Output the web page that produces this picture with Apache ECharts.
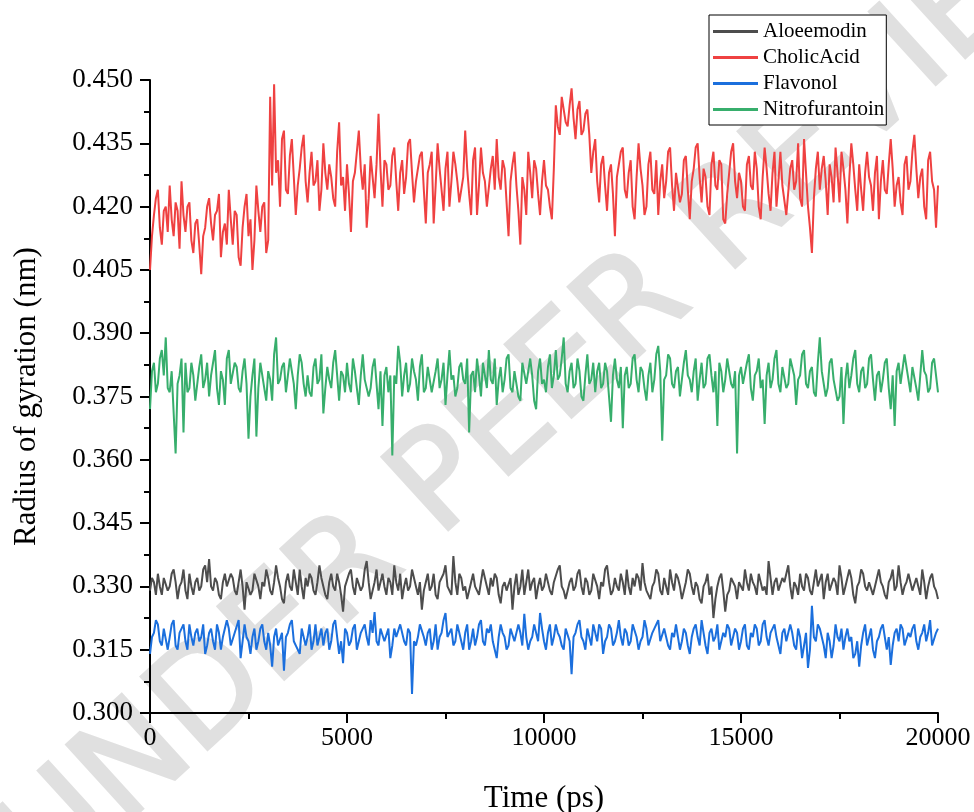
<!DOCTYPE html>
<html>
<head>
<meta charset="utf-8">
<script src="https://cdn.jsdelivr.net/npm/echarts@6/dist/echarts.min.js"></script>
<style>html,body{margin:0;padding:0;background:#fff}#c{width:974px;height:812px}</style>
</head>
<body>
<div id="c"></div>
<script>
// Sampling interval of the trajectories (ps); each row below = 1000 ps
const timeStep = 50;
const seriesNames = ['Aloeemodin', 'CholicAcid', 'Flavonol', 'Nitrofurantoin'];
const xTicks = ['0', '5000', '10000', '15000', '20000'];
const yTicks = ['0.300','0.315','0.330','0.345','0.360','0.375','0.390','0.405','0.420','0.435','0.450'];

const aloeemodin = [
.329,.332,.331,.328,.333,.330,.328,.332,.332,.329,.330,.333,.334,.331,.327,.330,.331,.334,.329,.327,
.333,.330,.328,.331,.332,.329,.330,.334,.335,.331,.3365,.330,.329,.332,.331,.328,.327,.331,.333,.330,
.330,.333,.332,.329,.328,.331,.334,.330,.3245,.331,.331,.328,.329,.333,.333,.330,.327,.331,.330,.334,
.332,.329,.328,.331,.335,.332,.330,.327,.326,.331,.333,.330,.329,.334,.331,.328,.334,.330,.327,.332,
.330,.333,.332,.329,.328,.331,.335,.332,.330,.328,.327,.331,.333,.330,.329,.333,.331,.328,.324,.330,
.330,.333,.334,.330,.328,.332,.332,.329,.330,.334,.336,.331,.327,.329,.331,.334,.329,.331,.333,.330,
.328,.332,.331,.328,.335,.331,.329,.333,.327,.330,.332,.329,.330,.334,.334,.330,.328,.331,.3245,.329,
.331,.333,.329,.330,.333,.328,.327,.331,.331,.333,.335,.330,.330,.328,.3372,.331,.328,.333,.332,.329,
.330,.327,.327,.331,.333,.330,.329,.328,.331,.334,.334,.330,.328,.332,.330,.333,.332,.328,.326,.330,
.331,.329,.329,.332,.3245,.330,.333,.328,.330,.334,.328,.331,.334,.329,.331,.332,.327,.330,.332,.329,
.330,.333,.333,.329,.328,.331,.331,.334,.335,.330,.329,.327,.327,.331,.332,.329,.330,.333,.334,.330,
.328,.332,.331,.328,.329,.333,.333,.330,.327,.331,.330,.334,.335,.331,.328,.329,.332,.330,.329,.333,
.331,.328,.334,.330,.328,.332,.330,.333,.332,.329,.3355,.331,.329,.328,.327,.330,.331,.334,.333,.329,
.328,.332,.330,.328,.334,.331,.329,.333,.332,.330,.327,.329,.331,.334,.333,.330,.328,.331,.330,.327,
.326,.330,.331,.333,.328,.330,.3225,.327,.330,.332,.333,.329,.324,.328,.329,.332,.332,.330,.327,.331,
.331,.329,.334,.331,.329,.333,.331,.330,.328,.333,.333,.329,.330,.328,.336,.332,.328,.331,.332,.329,
.329,.332,.331,.333,.335,.330,.327,.331,.330,.328,.333,.330,.329,.333,.332,.329,.328,.331,.334,.330,
.330,.333,.327,.331,.333,.329,.329,.332,.331,.328,.335,.332,.328,.330,.330,.334,.332,.328,.326,.330,
.331,.334,.333,.330,.329,.331,.331,.328,.328,.332,.334,.331,.330,.328,.327,.331,.332,.334,.329,.330,
.335,.331,.328,.330,.331,.333,.333,.329,.329,.332,.330,.328,.334,.331,.327,.330,.332,.333,.330,.329,
.327
];

const cholicAcid = [
.405,.413,.418,.422,.424,.415,.411,.419,.420,.414,.425,.417,.413,.421,.419,.410,.426,.418,.414,.420,
.421,.412,.409,.416,.417,.411,.404,.413,.415,.420,.422,.416,.412,.418,.419,.423,.408,.414,.416,.411,
.424,.417,.411,.419,.418,.408,.406,.415,.420,.423,.413,.417,.405,.412,.425,.419,.414,.420,.421,.409,
.412,.446,.425,.449,.428,.431,.420,.436,.438,.424,.423,.432,.436,.427,.418,.425,.429,.434,.437,.426,
.421,.428,.433,.425,.426,.431,.419,.424,.435,.428,.424,.430,.427,.422,.420,.433,.440,.425,.427,.419,
.430,.423,.414,.426,.428,.433,.438,.429,.424,.430,.415,.422,.432,.427,.422,.430,.442,.429,.420,.431,
.430,.424,.425,.432,.434,.426,.419,.428,.431,.423,.427,.435,.436,.428,.421,.426,.429,.432,.433,.424,
.416,.428,.430,.433,.416,.425,.435,.429,.424,.419,.429,.433,.420,.426,.433,.430,.426,.421,.421,.427,
.438,.429,.423,.418,.431,.434,.418,.425,.434,.428,.426,.420,.420,.429,.432,.424,.436,.427,.424,.431,
.429,.421,.413,.426,.430,.433,.425,.419,.411,.427,.424,.418,.433,.428,.422,.431,.429,.423,.418,.426,
.431,.425,.424,.420,.417,.429,.444,.439,.437,.446,.446,.440,.439,.444,.448,.441,.436,.443,.445,.437,
.438,.442,.443,.437,.428,.433,.436,.426,.421,.430,.432,.425,.419,.428,.430,.423,.413,.427,.427,.433,
.434,.424,.422,.428,.431,.420,.417,.427,.435,.429,.425,.418,.420,.430,.433,.424,.423,.431,.418,.426,
.430,.422,.426,.433,.434,.425,.419,.428,.428,.421,.423,.431,.432,.424,.417,.426,.429,.434,.435,.427,
.421,.429,.427,.420,.418,.430,.433,.425,.424,.431,.430,.417,.416,.423,.428,.433,.435,.426,.422,.428,
.426,.420,.419,.430,.432,.425,.424,.433,.429,.420,.417,.427,.434,.429,.423,.419,.428,.433,.420,.426,
.433,.425,.425,.418,.418,.429,.431,.424,.426,.435,.422,.420,.436,.428,.420,.415,.409,.422,.429,.433,
.424,.429,.432,.426,.418,.430,.427,.421,.434,.428,.421,.433,.429,.424,.416,.427,.435,.430,.424,.419,
.430,.424,.419,.428,.433,.427,.425,.419,.428,.432,.417,.426,.431,.424,.423,.430,.436,.429,.420,.425,
.427,.421,.418,.430,.432,.424,.426,.433,.437,.429,.422,.427,.429,.420,.417,.431,.433,.426,.424,.415,
.425
];

const flavonol = [
.314,.318,.319,.322,.321,.317,.316,.320,.320,.315,.318,.321,.322,.316,.315,.319,.319,.321,.317,.315,
.321,.318,.316,.319,.320,.317,.318,.321,.314,.316,.319,.320,.317,.315,.321,.319,.315,.318,.318,.322,
.320,.316,.316,.319,.319,.322,.313,.317,.321,.318,.317,.314,.318,.320,.315,.317,.320,.321,.317,.315,
.319,.316,.311,.318,.320,.316,.316,.319,.310,.318,.319,.321,.322,.317,.317,.315,.314,.320,.320,.316,
.318,.321,.315,.317,.321,.316,.318,.320,.316,.319,.320,.315,.317,.321,.322,.318,.314,.317,.3118,.320,
.319,.316,.317,.320,.321,.315,.315,.319,.319,.321,.318,.316,.322,.319,.3239,.317,.316,.320,.320,.317,
.317,.320,.313,.316,.320,.318,.318,.321,.321,.317,.316,.320,.319,.3045,.317,.316,.318,.321,.321,.318,
.316,.319,.320,.315,.317,.321,.315,.318,.319,.322,.3237,.318,.318,.320,.316,.317,.321,.319,.317,.315,
.319,.321,.315,.317,.320,.316,.318,.321,.322,.317,.316,.320,.319,.321,.317,.315,.313,.318,.321,.319,
.318,.315,.316,.320,.320,.317,.317,.321,.319,.316,.3235,.318,.315,.317,.318,.321,.321,.317,.3237,.320,
.317,.315,.319,.321,.316,.318,.321,.319,.318,.316,.315,.320,.320,.317,.3092,.318,.319,.321,.322,.318,
.317,.315,.320,.318,.316,.321,.319,.317,.321,.320,.314,.317,.318,.321,.320,.316,.317,.319,.322,.318,
.316,.320,.319,.316,.317,.321,.321,.318,.315,.317,.318,.322,.320,.316,.316,.319,.319,.321,.322,.317,
.317,.320,.320,.316,.315,.319,.318,.321,.321,.315,.317,.320,.319,.316,.314,.318,.320,.321,.318,.316,
.322,.319,.316,.314,.319,.320,.317,.318,.321,.315,.315,.319,.318,.321,.320,.316,.316,.320,.319,.315,
.317,.320,.321,.316,.315,.319,.318,.321,.320,.316,.317,.321,.322,.318,.316,.319,.319,.321,.318,.316,
.314,.319,.320,.317,.317,.321,.319,.316,.315,.320,.318,.313,.316,.319,.3107,.315,.3254,.318,.317,.321,
.320,.318,.316,.313,.319,.317,.313,.316,.321,.318,.317,.320,.315,.318,.320,.317,.318,.313,.314,.317,
.311,.316,.319,.321,.316,.318,.320,.315,.313,.317,.318,.320,.321,.318,.315,.318,.3114,.316,.319,.320,
.317,.321,.320,.316,.316,.319,.318,.320,.321,.317,.315,.318,.319,.321,.317,.319,.322,.316,.316,.319,
.320
];

const nitrofurantoin = [
.372,.381,.383,.376,.378,.384,.386,.380,.389,.377,.376,.381,.381,.3615,.378,.380,.384,.3665,.383,.376,
.377,.383,.380,.374,.374,.382,.385,.377,.379,.383,.375,.380,.383,.386,.377,.373,.381,.379,.373,.384,
.386,.378,.378,.383,.382,.377,.376,.381,.384,.378,.365,.375,.380,.384,.3655,.377,.383,.380,.377,.374,
.381,.379,.374,.385,.389,.378,.379,.382,.383,.376,.376,.384,.381,.378,.372,.380,.385,.383,.378,.375,
.380,.376,.375,.382,.384,.378,.379,.385,.371,.377,.382,.379,.377,.383,.386,.380,.374,.381,.380,.376,
.383,.378,.376,.384,.381,.377,.373,.380,.385,.379,.379,.375,.377,.382,.384,.378,.372,.381,.368,.380,
.382,.376,.380,.361,.380,.378,.387,.383,.375,.380,.383,.376,.378,.384,.381,.379,.374,.382,.385,.376,
.377,.382,.382,.376,.376,.381,.384,.377,.379,.383,.373,.380,.386,.379,.380,.375,.377,.382,.383,.379,
.378,.384,.3665,.380,.381,.376,.384,.380,.375,.383,.380,.377,.386,.379,.378,.384,.373,.379,.382,.376,
.379,.384,.385,.377,.376,.381,.381,.375,.374,.383,.383,.378,.378,.384,.380,.374,.372,.381,.384,.378,
.379,.376,.382,.385,.377,.380,.386,.379,.380,.384,.389,.378,.376,.381,.383,.377,.378,.384,.381,.375,
.374,.380,.385,.378,.379,.383,.376,.381,.383,.377,.378,.383,.381,.375,.369,.380,.384,.379,.377,.382,
.3675,.380,.382,.377,.378,.384,.385,.379,.376,.382,.381,.377,.374,.380,.383,.376,.379,.385,.387,.381,
.3645,.379,.380,.385,.384,.378,.377,.381,.382,.375,.375,.383,.386,.380,.379,.376,.381,.384,.374,.379,
.383,.377,.378,.384,.385,.380,.376,.381,.368,.383,.381,.376,.379,.384,.384,.378,.377,.381,.3615,.380,
.382,.378,.378,.383,.385,.377,.374,.380,.381,.384,.377,.379,.3685,.380,.383,.377,.379,.384,.386,.378,
.376,.382,.382,.377,.378,.384,.384,.380,.373,.379,.380,.385,.386,.378,.377,.381,.382,.376,.375,.383,
.389,.381,.381,.375,.377,.383,.384,.379,.379,.374,.375,.382,.3685,.379,.383,.377,.380,.384,.386,.378,
.376,.381,.382,.377,.378,.384,.385,.379,.374,.380,.381,.376,.379,.383,.384,.377,.372,.380,.368,.381,
.383,.378,.378,.385,.385,.379,.376,.382,.382,.377,.374,.380,.386,.381,.380,.376,.377,.383,.384,.380,
.376
];

const colors = ['#4d4d4d', '#ef4141', '#1b6fdd', '#37ae6c'];
const values = [aloeemodin, cholicAcid, flavonol, nitrofurantoin];

function pairs(arr) { return arr.map((v, i) => [i * timeStep, v]); }

const serif = 'Liberation Serif, Times New Roman, serif';
const chart = echarts.init(document.getElementById('c'), null, {renderer: 'canvas'});
chart.setOption({
  animation: false,
  backgroundColor: '#ffffff',
  color: colors,
  graphic: [{
    type: 'text',
    z: -10,
    x: 560, y: 380,
    rotation: 0.74,
    style: {
      text: 'UNDER PEER REVIEW',
      font: '135px "DejaVu Sans"',
      fill: '#e0e0e0',
      stroke: '#e0e0e0',
      lineWidth: 3,
      align: 'center',
      verticalAlign: 'middle'
    },
    silent: true
  }],
  grid: {left: 150, right: 36, top: 80, bottom: 99, containLabel: false, outerBoundsMode: 'none'},
  legend: {
    orient: 'vertical',
    left: 709, top: 15,
    padding: [6, 2, 5, 4],
    icon: 'rect',
    itemWidth: 45, itemHeight: 3, itemGap: 5,
    borderColor: '#000', borderWidth: 1, borderRadius: 0,
    backgroundColor: '#fff',
    textStyle: {fontFamily: serif, fontSize: 21, color: '#000', lineHeight: 21},
    data: seriesNames
  },
  xAxis: {
    type: 'value',
    min: 0, max: 20000, interval: 5000,
    name: 'Time (ps)', nameLocation: 'middle', nameGap: 70,
    nameTextStyle: {fontFamily: serif, fontSize: 31, color: '#000'},
    axisLine: {show: true, onZero: false, lineStyle: {color: '#000', width: 2}},
    axisTick: {show: true, length: 10, lineStyle: {color: '#000', width: 2}},
    minorTick: {show: true, splitNumber: 2, length: 6, lineStyle: {color: '#000', width: 2}},
    splitLine: {show: false},
    axisLabel: {fontFamily: serif, fontSize: 26, color: '#000', margin: 12,
      formatter: v => { const i = Math.round(v / 5000); return xTicks[i] !== undefined ? xTicks[i] : String(v); }}
  },
  yAxis: {
    type: 'value',
    min: 0.3, max: 0.45, interval: 0.015,
    name: 'Radius of gyration (nm)', nameLocation: 'middle', nameGap: 108,
    nameTextStyle: {fontFamily: serif, fontSize: 31, color: '#000'},
    axisLine: {show: true, onZero: false, lineStyle: {color: '#000', width: 2}},
    axisTick: {show: true, length: 10, lineStyle: {color: '#000', width: 2}},
    minorTick: {show: true, splitNumber: 2, length: 6, lineStyle: {color: '#000', width: 2}},
    splitLine: {show: false},
    axisLabel: {fontFamily: serif, fontSize: 27, color: '#000', margin: 17,
      formatter: v => { const i = Math.round((v - 0.3) / 0.015); return yTicks[i] !== undefined ? yTicks[i] : v.toFixed(3); }}
  },
  series: seriesNames.map((n, k) => ({
    name: n,
    type: 'line',
    data: pairs(values[k]),
    symbol: 'none',
    showSymbol: false,
    lineStyle: {width: 2, color: colors[k]},
    itemStyle: {color: colors[k]},
    z: 2 + k
  }))
});
</script>
</body>
</html>
